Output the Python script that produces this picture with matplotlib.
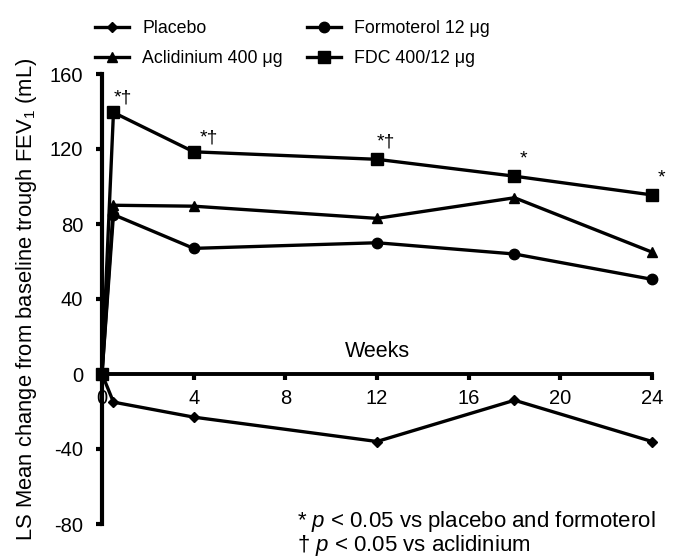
import matplotlib
matplotlib.use("Agg")
import matplotlib.pyplot as plt
from matplotlib.lines import Line2D

plt.rcParams['font.family'] = ['Liberation Sans', 'DejaVu Sans']
plt.rcParams['mathtext.fontset'] = 'custom'
plt.rcParams['mathtext.rm'] = 'Liberation Sans'
plt.rcParams['mathtext.it'] = 'Liberation Sans:italic'
plt.rcParams['axes.unicode_minus'] = False

weeks = [0, 0.5, 4, 12, 18, 24]
placebo = [0, -15, -23, -36, -14, -36]
formoterol = [0, 85, 67, 70, 64, 50.5]
aclidinium = [0, 90, 89.5, 83, 94, 65]
fdc = [0, 139.5, 118.5, 114.5, 105.5, 95.5]
fdc_marks = ["", "*†", "*†", "*†", "*", "*"]

series_labels = ["Placebo", "Aclidinium 400 μg", "Formoterol 12 μg", "FDC 400/12 μg"]
xticks = [0, 4, 8, 12, 16, 20, 24]
yticks = [-80, -40, 0, 40, 80, 120, 160]

fig = plt.figure(figsize=(6.73, 5.59), dpi=100)
ax = fig.add_axes([102/673, 1-524/559, (652-102)/673, 450/559])

lw = 2.4
styles = [
    (placebo, 'D', 5.5),
    (aclidinium, '^', 7.5),
    (formoterol, 'o', 7.5),
    (fdc, 's', 8),
]
for vals, mk, ms in styles:
    ax.plot(weeks, vals, color='black', lw=lw, marker=mk, markersize=ms,
            clip_on=False, zorder=3)

offsets = [(0, 0), (0, 4), (4, 4), (0, 6), (4, 6), (4, 6)]
for x, y, lab, off in zip(weeks, fdc, fdc_marks, offsets):
    if lab:
        ax.annotate(lab, (x, y), xytext=off, textcoords='offset points',
                    ha='left', va='bottom', fontsize=14)

ax.set_xlim(0, 24)
ax.set_ylim(-80, 160)
ax.spines['top'].set_visible(False)
ax.spines['right'].set_visible(False)
ax.spines['bottom'].set_position(('data', 0))
ax.spines['bottom'].set_linewidth(2.8)
ax.spines['left'].set_linewidth(3)
ax.set_xticks(xticks)
ax.set_yticks(yticks)
ax.tick_params(axis='both', direction='out', length=4.5, width=3, labelsize=14.5)
ax.tick_params(axis='x', pad=6)
ax.tick_params(axis='y', pad=9)

ax.text(12, 12, "Weeks", ha='center', va='center', fontsize=15.5)
ax.set_ylabel(r"LS Mean change from baseline trough FEV$_\mathregular{1}$ (mL)",
              fontsize=15.8)
ax.yaxis.set_label_coords(-0.114, 0.5)

fig.text(297/673, 1-521/559, r"* $\it{p}$ < 0.05 vs placebo and formoterol",
         ha='left', va='center', fontsize=16)
fig.text(297/673, 1-545/559, r"† $\it{p}$ < 0.05 vs aclidinium",
         ha='left', va='center', fontsize=16)

handles = [Line2D([], [], color='black', lw=lw, marker=mk, markersize=ms)
           for _, mk, ms in styles]
fig.legend(handles, series_labels, ncol=2, loc='upper left',
           bbox_to_anchor=(86/673, 1-11/559), frameon=False, fontsize=12.8,
           borderpad=0, handlelength=1.9, handletextpad=0.75,
           columnspacing=1.38, labelspacing=0.75)

fig.savefig("out.png", dpi=100)
